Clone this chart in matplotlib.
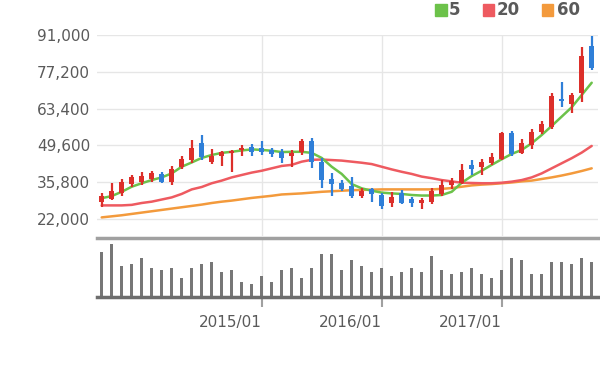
import matplotlib
matplotlib.use('Agg')
import matplotlib.pyplot as plt
from matplotlib.patches import Rectangle
import numpy as np
import pandas as pd

# ---------------- data (monthly candles, 2013/09 .. 2017/10) ----------------
months = [p.strftime('%Y/%m') for p in pd.period_range('2013-09', periods=50, freq='M')]

opens = [28400, 29500, 31600, 35100, 36000, 36900, 38900, 36000, 41600, 44100,
         50600, 43500, 45600, 46600, 47800, 49000, 48500, 48000, 47200, 45600,
         47100, 51400, 43200, 36900, 35600, 34400, 30600, 33100, 31000, 27900,
         31600, 29400, 27900, 28500, 31400, 34600, 35600, 42300, 41400, 42900,
         44400, 54400, 46900, 49800, 54700, 56400, 66900, 65100, 69100, 86900]
highs = [31800, 35400, 36900, 38500, 39700, 40100, 39700, 41900, 45600, 51600,
         53500, 48100, 47600, 47900, 49600, 50100, 51400, 48800, 48100, 47900,
         51900, 52500, 44800, 39100, 36600, 37600, 33500, 33500, 31600, 32200,
         32900, 30100, 29800, 33500, 36600, 37300, 42600, 44100, 44400, 46900,
         54700, 55100, 51900, 55600, 58900, 69100, 73500, 69400, 86600, 90600]
lows = [26400, 29100, 30600, 34100, 34800, 36000, 35400, 34800, 40600, 43100,
        44100, 42600, 41700, 39700, 45800, 45800, 46000, 45300, 42900, 41600,
        46000, 41100, 33800, 30600, 32600, 29800, 29800, 28500, 25600, 26400,
        27600, 26400, 25600, 27600, 30600, 33300, 35100, 38500, 38500, 42300,
        44100, 45600, 46400, 48100, 53900, 55600, 63900, 61600, 66000, 77900]
closes = [30800, 32600, 36000, 37600, 38200, 39100, 36000, 40600, 44500, 48500,
          45100, 45800, 47200, 47600, 48500, 47100, 47100, 46200, 44800, 46900,
          51400, 43400, 36800, 35100, 33100, 30600, 32600, 31400, 26900, 30400,
          28100, 28100, 29100, 32600, 34800, 36400, 40400, 40600, 43500, 45100,
          54100, 46400, 50600, 54700, 57600, 68100, 66400, 68500, 83100, 78500]

ma5 = [29800, 30600, 32200, 34100, 35400, 36600, 37600, 39100, 41600, 43200,
       44900, 46000, 46800, 47200, 47700, 48100, 47900, 47600, 47100, 47200,
       47200, 46800, 44900, 41600, 38900, 35100, 33500, 32600, 31900, 31600,
       31400, 31000, 30800, 30800, 31000, 32200, 35600, 38100, 40100, 42300,
       44400, 46400, 47900, 50400, 53500, 56900, 60400, 63900, 68500, 73100]
ma20 = [27100, 27100, 27100, 27300, 28000, 28500, 29300, 30100, 31400, 33100,
        34000, 35400, 36400, 37600, 38500, 39400, 40100, 41000, 41900, 42300,
        43500, 44200, 44300, 44100, 43900, 43500, 43100, 42600, 41600, 40600,
        39700, 38900, 37900, 37300, 36600, 36100, 35600, 35500, 35400, 35400,
        35600, 36000, 36600, 37600, 39100, 41000, 42900, 44800, 46900, 49400]
ma60 = [22600, 23000, 23400, 23900, 24400, 24900, 25400, 25900, 26400, 26900,
        27400, 28000, 28500, 28900, 29400, 29900, 30300, 30700, 31200, 31400,
        31600, 31900, 32200, 32400, 32600, 32800, 32900, 33000, 33100, 33100,
        33100, 33100, 33100, 33100, 33300, 33600, 34100, 34600, 34900, 35100,
        35400, 35700, 36100, 36400, 37000, 37600, 38300, 39100, 40000, 41000]

volume = [136, 161, 93, 100, 118, 88, 82, 88, 58, 88,
          100, 106, 76, 82, 46, 40, 64, 46, 82, 88,
          58, 88, 130, 130, 82, 111, 93, 76, 88, 63,
          76, 88, 76, 123, 82, 70, 76, 88, 70, 58,
          82, 118, 111, 70, 70, 106, 106, 100, 118, 106]

price_ticks = [22000, 35800, 49600, 63400, 77200, 91000]
x_tick_labels = ['2015/01', '2016/01', '2017/01']
legend_labels = ['5', '20', '60']

# ---------------- styling ----------------
RED = '#dc2f2a'
BLUE = '#2f7fd8'
MA_COLORS = ['#6cc24a', '#ee5a60', '#f39a3c']
GRID = '#e6e6e6'
TXT = '#5a5a5a'

W, H = 600, 372
fig = plt.figure(figsize=(W / 100, H / 100), dpi=100)


def rect(l, t, r, b):
    return [l / W, 1 - b / H, (r - l) / W, (b - t) / H]


ax = fig.add_axes(rect(97, 35, 598, 236))
axv = fig.add_axes(rect(97, 238, 598, 297.3))

x = np.arange(len(months))
o = np.array(opens, float)
h = np.array(highs, float)
l = np.array(lows, float)
c = np.array(closes, float)
up = c >= o
cols = [RED if u else BLUE for u in up]

year_pos = [months.index(m) for m in x_tick_labels]

# ---- price panel ----
ax.set_xlim(-0.47, 49.63)
ax.set_ylim(15625, 91000)
for s in ax.spines.values():
    s.set_visible(False)
ax.set_axisbelow(True)
ax.set_yticks(price_ticks)
ax.set_yticklabels([f'{v:,}' for v in price_ticks])
ax.tick_params(axis='y', length=0, pad=5, labelsize=11, labelcolor=TXT)
ax.set_xticks(year_pos)
ax.tick_params(axis='x', length=0, labelbottom=False)
ax.grid(True, color=GRID, lw=1)

for vals, col in zip([ma60, ma20, ma5], MA_COLORS[::-1]):
    ax.plot(x, vals, color=col, lw=1.8, zorder=2, solid_capstyle='round')

ax.vlines(x, l, h, colors=cols, lw=1.6, zorder=3)
body_h = np.maximum(np.abs(c - o), 350)
ax.bar(x, body_h, bottom=np.minimum(o, c), width=0.55, color=cols, zorder=4)

# ---- volume panel ----
axv.set_xlim(-0.47, 49.63)
axv.set_ylim(0, 178)
axv.set_axisbelow(True)
axv.bar(x, volume, width=0.3, color='#777777', zorder=2)
for side in ['left', 'right']:
    axv.spines[side].set_visible(False)
axv.spines['top'].set_color('#a0a0a0')
axv.spines['top'].set_linewidth(2.5)
axv.spines['bottom'].set_color('#6e6e6e')
axv.spines['bottom'].set_linewidth(2.5)
axv.spines['bottom'].set_zorder(3)
axv.set_yticks([])
axv.set_xticks(year_pos)
axv.set_xticklabels(x_tick_labels)
for t in axv.get_xticklabels():
    t.set_horizontalalignment('right')
axv.tick_params(axis='x', direction='out', length=7, width=1.5, color='#a0a0a0',
                pad=6, labelsize=11, labelcolor=TXT)
axv.xaxis.grid(True, color=GRID, lw=1)

# ---- legend ----
leg_sq_x = [435, 482.5, 541.5]
leg_tx_x = [449, 497, 557]
for sx, tx, col, lab in zip(leg_sq_x, leg_tx_x, MA_COLORS, legend_labels):
    fig.patches.append(Rectangle((sx / W, 1 - 15.5 / H), 11.5 / W, 11.5 / H,
                                 transform=fig.transFigure, color=col))
    fig.text(tx / W, 1 - 10 / H, lab, ha='left', va='center', fontsize=12,
             fontweight='bold', color=TXT)

fig.savefig('out.png', dpi=100)
